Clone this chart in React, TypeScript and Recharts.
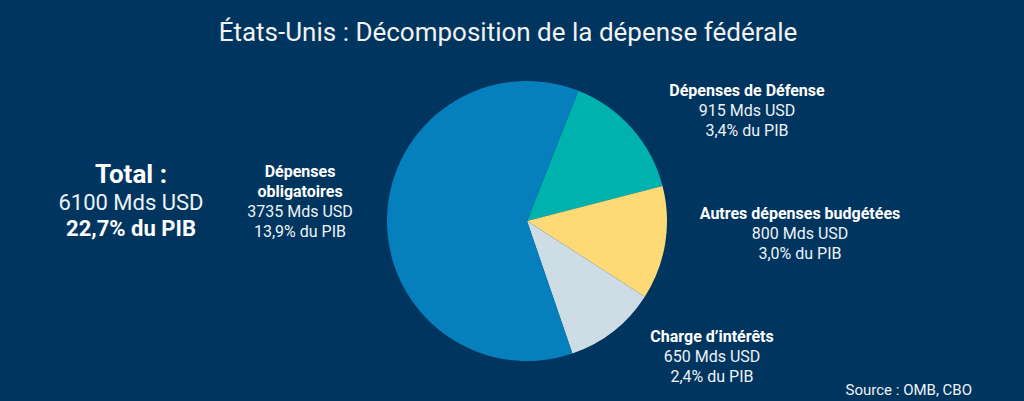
import { Cell, Pie, PieChart } from "recharts";

// Federal spending breakdown, Mds USD (total 6100)
const SEGMENTS = [
  "Dépenses de Défense",
  "Autres dépenses budgétées",
  "Charge d’intérêts",
  "Dépenses obligatoires",
];
const AMOUNTS = [915, 800, 650, 3735];
const GDP_SHARES = ["3,4%", "3,0%", "2,4%", "13,9%"];
const COLORS = ["#00B2AE", "#FDDA76", "#CEDCE6", "#0580BD"];

const TOTAL_AMOUNT = 6100;
const TOTAL_GDP = "22,7%";

const TITLE = "États-Unis : Décomposition de la dépense fédérale";
const SOURCE = "Source : OMB, CBO";

const WIDTH = 1024;
const HEIGHT = 401;
const BG = "#00355F";
const TEXT = "#EEF2F6";
const FONT = "Roboto, 'Noto Sans', sans-serif";

// label block centres (x) and first-line centre (y), same order as SEGMENTS
const LABEL_POS = [
  { x: 747, y: 91 },
  { x: 800, y: 214 },
  { x: 712, y: 337 },
  { x: 300, y: 172 },
];

const data = SEGMENTS.map((name, i) => ({ name, value: AMOUNTS[i] }));

function splitMandatory(name: string) {
  // the mandatory label wraps onto two lines in the original
  return name === "Dépenses obligatoires" ? ["Dépenses", "obligatoires"] : [name];
}

export default function App() {
  return (
    <div
      style={{
        position: "relative",
        width: WIDTH,
        height: HEIGHT,
        background: BG,
        fontFamily: FONT,
        color: TEXT,
        overflow: "hidden",
      }}
    >
      <style>{`body{margin:0}`}</style>
      <PieChart
        width={WIDTH}
        height={HEIGHT}
        margin={{ top: 0, right: 0, bottom: 0, left: 0 }}
        style={{ position: "absolute", left: 0, top: 0 }}
      >
        <Pie
          data={data}
          dataKey="value"
          nameKey="name"
          cx={527}
          cy={221}
          outerRadius={140}
          startAngle={68.5}
          endAngle={-291.5}
          stroke="none"
          isAnimationActive={false}
        >
          {data.map((d, i) => (
            <Cell key={d.name} fill={COLORS[i]} />
          ))}
        </Pie>
      </PieChart>

      <div
        style={{
          position: "absolute",
          left: 0,
          width: 1016,
          top: 15,
          textAlign: "center",
          fontSize: 26,
          lineHeight: "34px",
          color: "#F2F2F2",
        }}
      >
        {TITLE}
      </div>

      <div
        style={{
          position: "absolute",
          left: 31,
          width: 200,
          top: 159,
          textAlign: "center",
        }}
      >
        <div style={{ fontSize: 26, fontWeight: 700, lineHeight: "30px", color: "#FFFFFF" }}>Total :</div>
        <div style={{ fontSize: 22, lineHeight: "27px" }}>{TOTAL_AMOUNT} Mds USD</div>
        <div style={{ fontSize: 22, fontWeight: 700, lineHeight: "26px", color: "#FFFFFF" }}>
          {TOTAL_GDP} du PIB
        </div>
      </div>

      {SEGMENTS.map((name, i) => {
        const titleLines = splitMandatory(name);
        return (
          <div
            key={name}
            style={{
              position: "absolute",
              left: LABEL_POS[i].x - 150,
              width: 300,
              top: LABEL_POS[i].y - 10,
              textAlign: "center",
              fontSize: 16,
              lineHeight: "20px",
            }}
          >
            {titleLines.map((t) => (
              <div key={t} style={{ fontWeight: 700, color: "#FFFFFF" }}>
                {t}
              </div>
            ))}
            <div>{AMOUNTS[i]} Mds USD</div>
            <div>{GDP_SHARES[i]} du PIB</div>
          </div>
        );
      })}

      <div
        style={{
          position: "absolute",
          right: 52,
          top: 381,
          fontSize: 15,
          lineHeight: "18px",
        }}
      >
        {SOURCE}
      </div>
    </div>
  );
}
